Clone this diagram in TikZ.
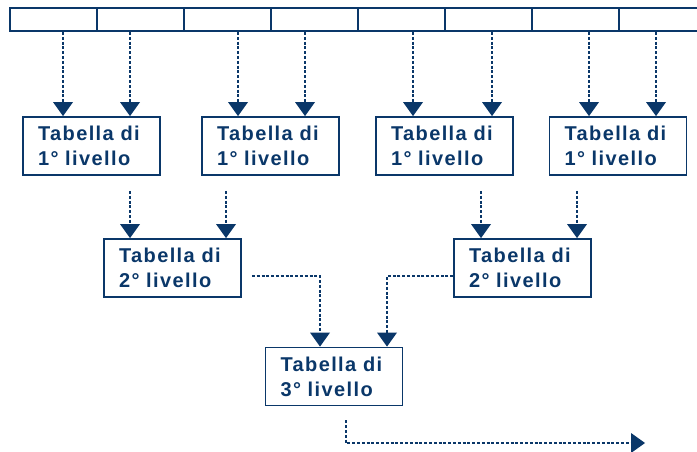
\documentclass[tikz,border=0pt]{standalone}
\usepackage{fontspec}
\setmainfont{Liberation Sans}
\usetikzlibrary{arrows.meta}
\definecolor{navy}{RGB}{10,55,105}

\begin{document}
\begin{tikzpicture}[x=1pt,y=-1pt,
    cella/.style={draw=navy,line width=2pt,minimum width=87pt,minimum height=23pt,inner sep=0pt},
    tabella/.style={draw=navy,line width=1.8pt,text=navy,align=left,text width=107pt,
        inner xsep=15pt,minimum height=58pt,
        font=\addfontfeature{LetterSpace=7}\fontsize{20}{25}\selectfont\bfseries},
    flow/.style={navy,line width=1.5pt,dash pattern=on 3pt off 1.8pt,
        -{Triangle[width=20pt,length=14pt,line width=0pt]}}]
        \clip(0,0)rectangle(697,452);
        \useasboundingbox(0,0)rectangle(697,452);
        % vettore in alto
        \foreach \i in {1,...,8}
            \node[cella](c\i)at({10+87*(\i-0.5)},19.5){};

        % tabelle di 1 livello
        \node[tabella](t1)at(91.5,146){Tabella di\\1° livello};
        \node[tabella](t2)at(270.5,146){Tabella di\\1° livello};
        \node[tabella](t3)at(444.5,146){Tabella di\\1° livello};
        \node[tabella](t4)at(618,146){Tabella di\\1° livello};
        % tabelle di 2 livello
        \node[tabella](u1)at(172.5,268){Tabella di\\2° livello};
        \node[tabella](u2)at(522.5,268){Tabella di\\2° livello};
        % tabella di 3 livello
        \node[tabella](v)at(334,376.5){Tabella di\\3° livello};

        \draw[flow](c1.south-|63,0)--(t1.north-|63,0);
        \draw[flow](c2.south-|130,0)--(t1.north-|130,0);
        \draw[flow](c3.south-|238,0)--(t2.north-|238,0);
        \draw[flow](c4.south-|305,0)--(t2.north-|305,0);
        \draw[flow](c5.south-|413,0)--(t3.north-|413,0);
        \draw[flow](c6.south-|492,0)--(t3.north-|492,0);
        \draw[flow](c7.south-|589,0)--(t4.north-|589,0);
        \draw[flow](c8.south-|656,0)--(t4.north-|656,0);

        \draw[flow](t1.south-|130,0)++(0,15)--(u1.north-|130,0);
        \draw[flow](t2.south-|226,0)++(0,15)--(u1.north-|226,0);
        \draw[flow](t3.south-|481,0)++(0,15)--(u2.north-|481,0);
        \draw[flow](t4.south-|577,0)++(0,15)--(u2.north-|577,0);

        \draw[flow](u1.east|-0,276)++(10,0)-|(v.north-|320,0);
        \draw[flow](u2.west|-0,276)-|(v.north-|387,0);

        \coordinate(fine)at(645,443);
        \draw[flow](v.south-|346,0)++(0,14)|-(fine);
\end{tikzpicture}
\end{document}
